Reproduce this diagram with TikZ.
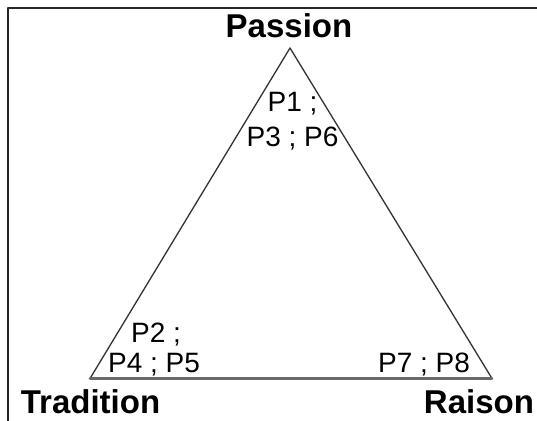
\documentclass[tikz,border=0pt]{standalone}
\usepackage{fontspec}
\setmainfont{Liberation Sans}
\usepackage{tikz}
\usetikzlibrary{positioning,calc}

\begin{document}
\begin{tikzpicture}[x=1pt,y=1pt,line join=round]
\definecolor{edgec}{RGB}{50,50,50}\definecolor{basec}{RGB}{105,105,105}
\tikzset{pole/.style={anchor=base,font=\fontsize{33}{36}\selectfont\bfseries,inner sep=0pt},
  plab/.style={anchor=base,font=\fontsize{28}{30}\selectfont,inner sep=0pt}}
\useasboundingbox (0,0) rectangle (537,420);
% frame (only left and top edges fall inside the picture)
\draw[line width=2pt,black!85] (8,-5) -- (8,412) -- (545,412);
% the three poles of the triangle
\coordinate (passion) at (290,372);
\coordinate (tradition) at (90,41.5);
\coordinate (raison) at (492,41.5);
\draw[edgec,line width=1.3pt] (tradition) -- (passion) -- (raison);
\draw[basec,line width=2.6pt,line cap=round] (tradition) -- (raison);
\node[pole] (lpassion) at (289,382) {Passion};
\node[pole] (ltradition) at (90.5,7) {Tradition};
\node[pole] (lraison) at (479,7) {Raison};
% positions close to each pole
\node[plab] (p1) at (292.5,308) {P1 ;};
\node[plab] (p3) at (292.5,273) {P3 ; P6};
\node[plab] (p2) at (156,78) {P2 ;};
\node[plab] (p4) at (154,48) {P4 ; P5};
\node[plab] (p7) at (424,48) {P7 ; P8};
\end{tikzpicture}
\end{document}
